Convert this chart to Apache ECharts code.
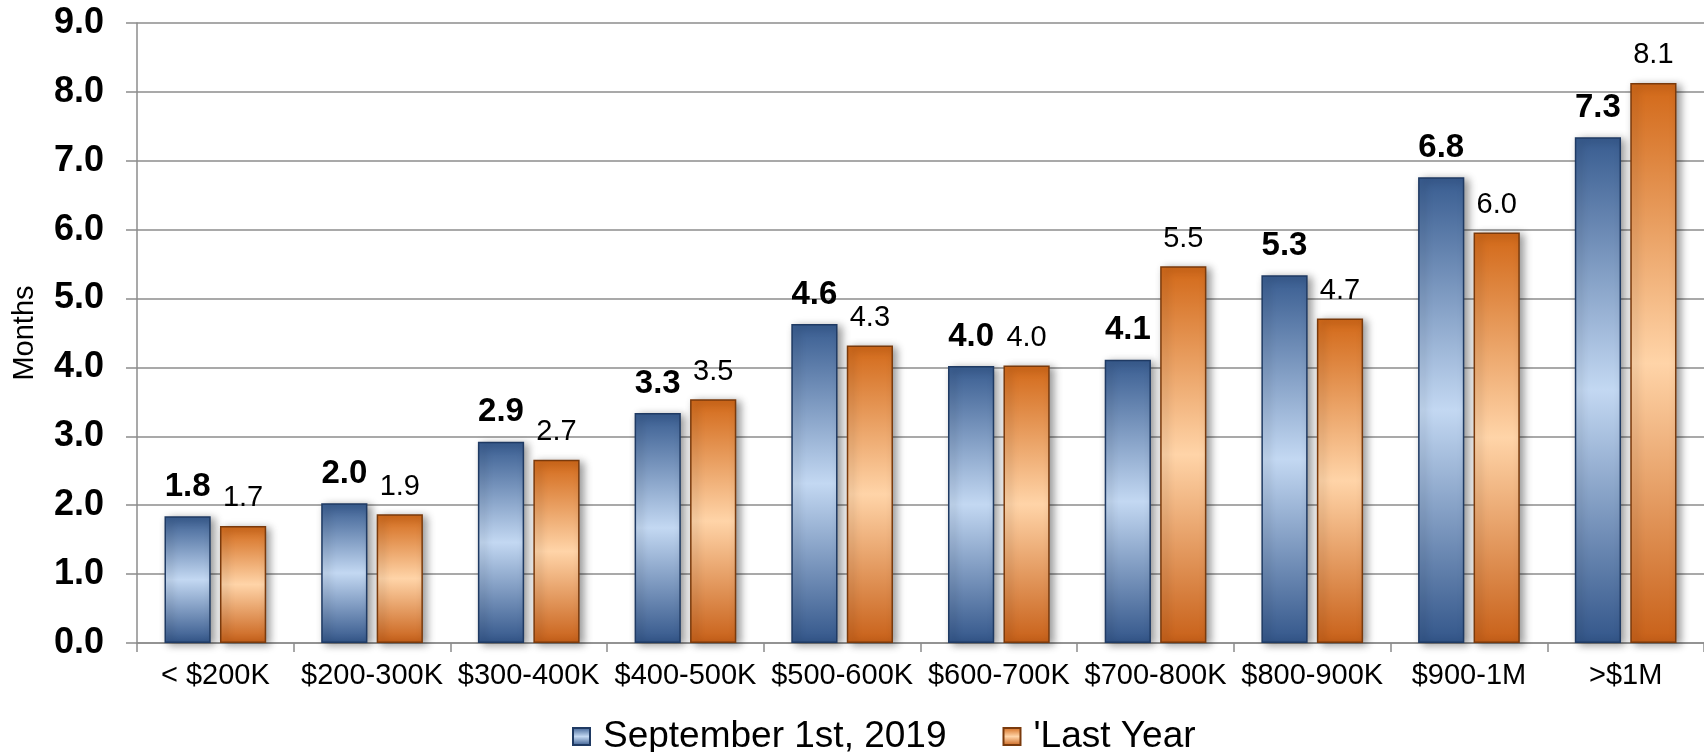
<!DOCTYPE html>
<html>
<head>
<meta charset="utf-8">
<script src="https://cdn.jsdelivr.net/npm/echarts@6/dist/echarts.min.js"></script>
<style>
html,body{margin:0;padding:0;background:#fff;}
#chart{width:1704px;height:752px;}
</style>
</head>
<body>
<div id="chart"></div>
<script>
var categories = ['< $200K', '$200-300K', '$300-400K', '$400-500K', '$500-600K', '$600-700K', '$700-800K', '$800-900K', '$900-1M', '>$1M'];
var currentValues = [1.84, 2.03, 2.92, 3.34, 4.63, 4.02, 4.11, 5.34, 6.76, 7.34];
var lastYearValues = [1.70, 1.87, 2.66, 3.54, 4.32, 4.03, 5.47, 4.71, 5.96, 8.13];
var seriesNames = ['September 1st, 2019', "'Last Year"];
var yTicks = { min: 0, max: 9, interval: 1 };

var FONT = '"Liberation Sans", Arial, Helvetica, sans-serif';

function barGrad(edgeTop, mid, edgeBot) {
  return new echarts.graphic.LinearGradient(0, 0, 0, 1, [
    { offset: 0, color: edgeTop },
    { offset: 0.5, color: mid },
    { offset: 1, color: edgeBot }
  ]);
}
var blueFill = barGrad('#385c90', '#c3d8f2', '#33568a');
var orangeFill = barGrad('#d26818', '#ffd4a8', '#c86018');

var chart = echarts.init(document.getElementById('chart'), null, { renderer: 'canvas' });
chart.setOption({
  backgroundColor: '#ffffff',
  animation: false,
  grid: { left: 137, top: 23, bottom: 109, right: -8, containLabel: false },
  legend: {
    data: seriesNames,
    top: 713,
    left: 567,
    itemWidth: 17,
    itemHeight: 17,
    itemGap: 56,
    icon: 'rect',
    textStyle: { fontFamily: FONT, fontSize: 37, color: '#000', padding: [0, 0, 0, 8] }
  },
  xAxis: {
    type: 'category',
    data: categories,
    axisLine: { lineStyle: { color: '#8c8c8c', width: 1.5 } },
    axisTick: { show: true, length: 9, lineStyle: { color: '#8c8c8c', width: 1.5 } },
    axisLabel: { fontFamily: FONT, fontSize: 29, color: '#000', margin: 18, interval: 0 }
  },
  yAxis: {
    type: 'value',
    min: yTicks.min,
    max: yTicks.max,
    interval: yTicks.interval,
    name: 'Months',
    nameLocation: 'middle',
    nameGap: 98,
    nameTextStyle: { fontFamily: FONT, fontSize: 29, color: '#000' },
    axisLine: { show: true, lineStyle: { color: '#8c8c8c', width: 1.5 } },
    axisTick: { show: true, length: 11, lineStyle: { color: '#8c8c8c', width: 1.5 } },
    axisLabel: {
      fontFamily: FONT, fontSize: 36, fontWeight: 'bold', color: '#000', margin: 33,
      formatter: function (v) { return v.toFixed(1); }
    },
    splitLine: { lineStyle: { color: '#8c8c8c', width: 1.5 } }
  },
  series: [
    {
      name: seriesNames[0],
      type: 'bar',
      data: currentValues,
      barWidth: '29.5%',
      barGap: '20%',
      itemStyle: {
        color: blueFill,
        borderColor: '#1f3a63',
        borderWidth: 1.5,
        shadowColor: 'rgba(0,0,0,0.4)',
        shadowBlur: 8,
        shadowOffsetX: 4,
        shadowOffsetY: 2
      },
      label: {
        show: true, position: 'top', distance: 13,
        fontFamily: FONT, fontSize: 33, fontWeight: 'bold', color: '#000',
        formatter: function (p) { return p.value.toFixed(1); }
      }
    },
    {
      name: seriesNames[1],
      type: 'bar',
      data: lastYearValues,
      barWidth: '29.5%',
      barGap: '20%',
      itemStyle: {
        color: orangeFill,
        borderColor: '#7a3a0c',
        borderWidth: 1.5,
        shadowColor: 'rgba(0,0,0,0.4)',
        shadowBlur: 8,
        shadowOffsetX: 4,
        shadowOffsetY: 2
      },
      label: {
        show: true, position: 'top', distance: 13,
        fontFamily: FONT, fontSize: 29, color: '#000',
        formatter: function (p) { return p.value.toFixed(1); }
      }
    }
  ]
});
</script>
</body>
</html>
